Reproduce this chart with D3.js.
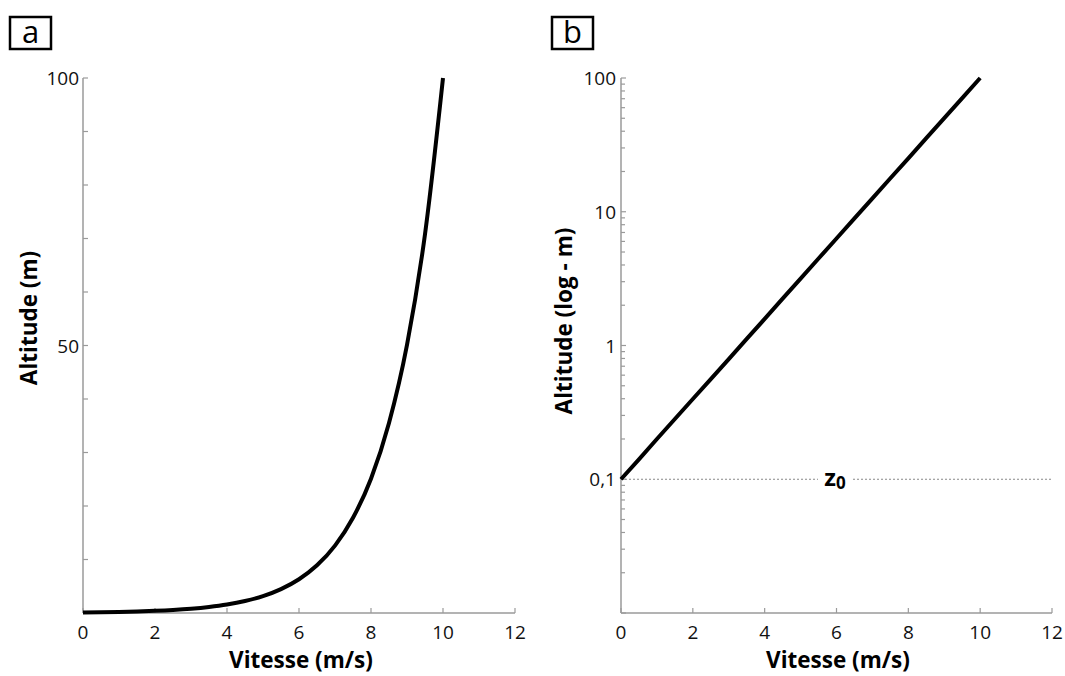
<!DOCTYPE html>
<html><head><meta charset="utf-8">
<script src="https://cdn.jsdelivr.net/npm/d3@7"></script>
<style>
body{margin:0;background:#fff;}
text{font-family:"Open Sans","Noto Sans",sans-serif;}
</style></head>
<body><svg id="c" width="1065" height="676"></svg>
<script>
// Data
const vitesse  = [0, 0.5, 1, 1.5, 2, 2.5, 3, 3.5, 4, 4.5, 5, 5.5, 6, 6.5, 7, 7.5, 8, 8.5, 9, 9.5, 10];
const altitude = [0.1, 0.141, 0.2, 0.282, 0.398, 0.56, 0.79, 1.12, 1.58, 2.24, 3.16, 4.47, 6.31, 8.91, 12.6, 17.8, 25.1, 35.5, 50.1, 70.8, 100];
const xTicks = [0, 2, 4, 6, 8, 10, 12];
const yTicksA = [0, 10, 20, 30, 40, 50, 60, 70, 80, 90, 100];
const yLabelsA = [50, 100];
const yLabelsB = [0.1, 1, 10, 100];
const z0 = 0.1;
const panelLabels = ["a", "b"];

const pts = vitesse.map((v, i) => ({v, z: altitude[i]}));
const svg = d3.select("#c");
const axisCol = "#9a9a9a";
const plotTop = 78, plotBottom = 613;
const tickFont = 19, titleFont = 22.5;

function xAxis(g, x) {
  g.append("line").attr("x1", x.range()[0]).attr("x2", x.range()[1])
    .attr("y1", plotBottom).attr("y2", plotBottom).attr("stroke", axisCol).attr("stroke-width", 1.5);
  xTicks.forEach(t => {
    g.append("line").attr("x1", x(t)).attr("x2", x(t)).attr("y1", plotBottom).attr("y2", plotBottom - 5)
      .attr("stroke", axisCol).attr("stroke-width", 1.2);
    g.append("text").attr("x", x(t)).attr("y", 639).attr("text-anchor", "middle")
      .attr("font-size", tickFont).attr("fill", "#111").text(t);
  });
}
function rotTitle(g, cx, cy, txt) {
  g.append("text").attr("transform", `translate(${cx},${cy}) rotate(-90)`).attr("text-anchor", "middle")
    .attr("font-size", titleFont).attr("font-weight", "bold").text(txt);
}

// Panel a
{
  const x = d3.scaleLinear().domain([0, 12]).range([83, 515]);
  const y = d3.scaleLinear().domain([0, 100]).range([plotBottom, plotTop]);
  const g = svg.append("g");
  g.append("line").attr("x1", 83).attr("x2", 83).attr("y1", plotBottom).attr("y2", plotTop)
    .attr("stroke", axisCol).attr("stroke-width", 1.5);
  yTicksA.forEach(t => g.append("line").attr("x1", 83).attr("x2", 88).attr("y1", y(t)).attr("y2", y(t))
    .attr("stroke", axisCol).attr("stroke-width", 1.2));
  yLabelsA.forEach(t => g.append("text").attr("x", 79).attr("y", y(t) + 7).attr("text-anchor", "end")
    .attr("font-size", tickFont).attr("fill", "#111").text(t));
  xAxis(g, x);
  g.append("path").datum(pts).attr("fill", "none").attr("stroke", "#000").attr("stroke-width", 4)
    .attr("d", d3.line().x(d => x(d.v)).y(d => y(d.z)).curve(d3.curveMonotoneX));
  g.append("text").attr("x", 301).attr("y", 668).attr("text-anchor", "middle")
    .attr("font-size", titleFont).attr("font-weight", "bold").text("Vitesse (m/s)");
  rotTitle(g, 37, 318, "Altitude (m)");
}

// Panel b
{
  const x = d3.scaleLinear().domain([0, 12]).range([621, 1052]);
  const y = d3.scaleLog().domain([0.01, 100]).range([plotBottom, plotTop]);
  const g = svg.append("g");
  g.append("line").attr("x1", 621).attr("x2", 621).attr("y1", plotBottom).attr("y2", plotTop)
    .attr("stroke", axisCol).attr("stroke-width", 1.5);
  y.ticks().forEach(t => {
    const major = yLabelsB.some(m => Math.abs(m - t) / m < 1e-6) || Math.abs(t - 0.01) < 1e-9;
    g.append("line").attr("x1", 621).attr("x2", 621 + (major ? 5 : 4)).attr("y1", y(t)).attr("y2", y(t))
      .attr("stroke", axisCol).attr("stroke-width", 1.2);
  });
  const fmt = d3.formatLocale({decimal: ",", thousands: " ", grouping: [3], currency: ["", "€"]}).format("~g");
  yLabelsB.forEach(t => g.append("text").attr("x", 616).attr("y", y(t) + 7).attr("text-anchor", "end")
    .attr("font-size", tickFont).attr("fill", "#111").text(fmt(t)));
  xAxis(g, x);
  g.append("line").attr("x1", 621).attr("x2", 1052).attr("y1", y(z0)).attr("y2", y(z0))
    .attr("stroke", "#888").attr("stroke-width", 1).attr("stroke-dasharray", "2,2");
  g.append("rect").attr("x", 818).attr("y", y(z0) - 12).attr("width", 34).attr("height", 26).attr("fill", "#fff");
  const zt = g.append("text").attr("x", 835).attr("y", y(z0) + 7).attr("text-anchor", "middle")
    .attr("font-size", 24).attr("font-weight", "bold");
  zt.append("tspan").text("z");
  zt.append("tspan").attr("font-size", 17).attr("dy", 3).text("0");
  g.append("path").datum(pts).attr("fill", "none").attr("stroke", "#000").attr("stroke-width", 4)
    .attr("d", d3.line().x(d => x(d.v)).y(d => y(d.z)));
  g.append("text").attr("x", 838).attr("y", 668).attr("text-anchor", "middle")
    .attr("font-size", titleFont).attr("font-weight", "bold").text("Vitesse (m/s)");
  rotTitle(g, 572, 321, "Altitude (log - m)");
}

// Panel labels
[[10, 17, 0], [552, 17, 1]].forEach(([px, py, i]) => {
  svg.append("rect").attr("x", px).attr("y", py).attr("width", 41).attr("height", 32)
    .attr("fill", "none").attr("stroke", "#000").attr("stroke-width", 2.5);
  svg.append("text").attr("x", px + 20.5).attr("y", py + 26).attr("text-anchor", "middle")
    .attr("font-size", 31).text(panelLabels[i]);
});
</script></body></html>
